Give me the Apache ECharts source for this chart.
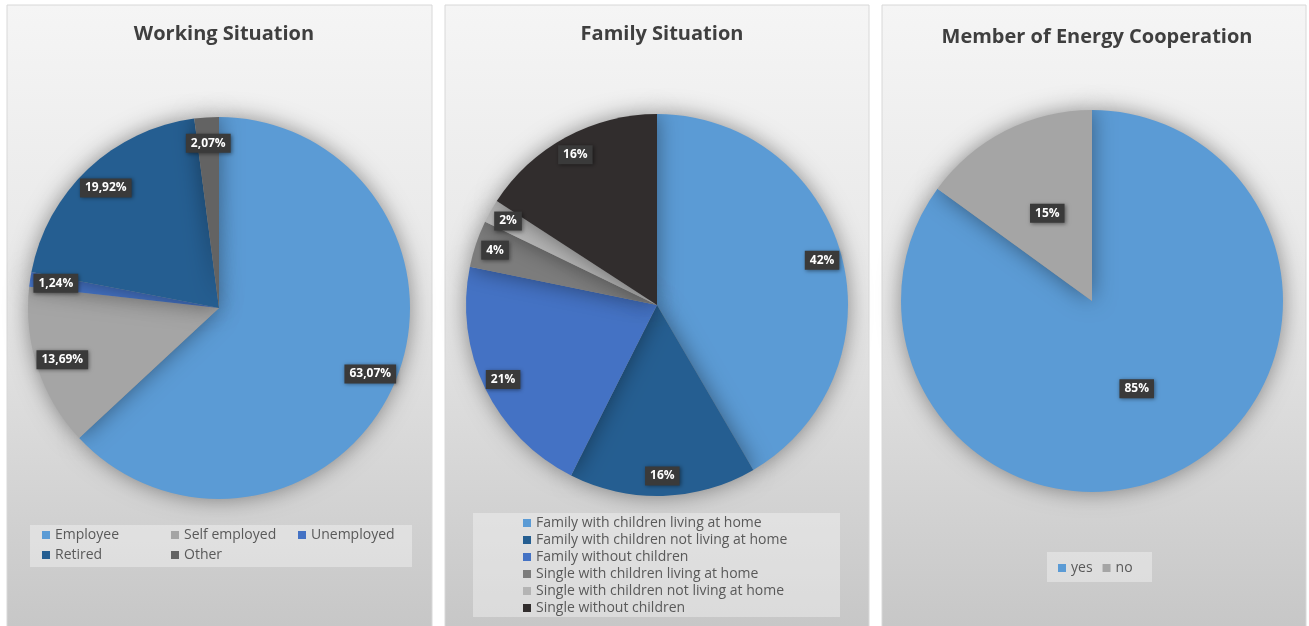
<!DOCTYPE html>
<html>
<head>
<meta charset="utf-8">
<script src="https://cdn.jsdelivr.net/npm/echarts@6/dist/echarts.min.js"></script>
<style>
  html, body { margin: 0; padding: 0; background: #ffffff; }
  #chart { width: 1309px; height: 626px; }
</style>
</head>
<body>
<div id="chart"></div>
<script>
// Working situation
const workCategories = ['Employee', 'Self employed', 'Unemployed', 'Retired', 'Other'];
const workValues = [63.07, 13.69, 1.24, 19.92, 2.07];
const workColors = ['#5b9bd5', '#a5a5a5', '#4472c4', '#255e91', '#636363'];

// Family situation
const familyCategories = [
  'Family with children living at home',
  'Family with children not living at home',
  'Family without children',
  'Single with children living at home',
  'Single with children not living at home',
  'Single without children'
];
const familyValues = [42, 16, 21, 4, 2, 16];
const familyColors = ['#5b9bd5', '#255e91', '#4472c4', '#7c7c7c', '#b4b4b4', '#312d2d'];

// Energy cooperation membership
const memberCategories = ['yes', 'no'];
const memberValues = [85, 15];
const memberColors = ['#5b9bd5', '#a5a5a5'];

const titles = ['Working Situation', 'Family Situation', 'Member of Energy Cooperation'];

const FONT = '"Open Sans", Lato, sans-serif';
const R = 191;

function items(names, values) {
  return names.map((n, i) => ({ name: n, value: values[i] }));
}

const valueLabel = {
  show: true,
  color: '#ffffff',
  fontFamily: FONT,
  fontWeight: 'bold',
  fontSize: 12,
  backgroundColor: '#3a3a3a',
  padding: [4, 5, 3, 5],
  shadowColor: 'rgba(0,0,0,0.45)',
  shadowBlur: 4,
  shadowOffsetX: 1,
  shadowOffsetY: 1
};

function basePie(center, names, values, colors, labelOn, fmt) {
  return {
    type: 'pie',
    center: center,
    radius: [0, R],
    startAngle: 90,
    clockwise: true,
    avoidLabelOverlap: false,
    silent: true,
    data: items(names, values),
    color: colors,
    itemStyle: {
      borderWidth: 0,
      shadowBlur: 22,
      shadowColor: 'rgba(0,0,0,0.42)'
    },
    label: labelOn ? Object.assign({ position: 'inside', formatter: fmt }, valueLabel) : { show: false },
    labelLine: { show: false },
    emphasis: { disabled: true }
  };
}

// transparent ring that only carries the value labels, placing them near the rim
function labelRing(center, inner, names, values, fmt) {
  return {
    type: 'pie',
    center: center,
    radius: [inner, R],
    startAngle: 90,
    clockwise: true,
    avoidLabelOverlap: false,
    silent: true,
    z: 5,
    data: items(names, values),
    itemStyle: { color: 'rgba(0,0,0,0)' },
    label: Object.assign({ position: 'inside', formatter: fmt }, valueLabel),
    labelLine: { show: false },
    emphasis: { disabled: true }
  };
}

const fmtDecimal = p => p.value.toFixed(2).replace('.', ',') + '%';
const fmtInt = p => p.value + '%';

const panelFill = {
  type: 'linear', x: 0, y: 0, x2: 0, y2: 1,
  colorStops: [
    { offset: 0, color: '#f5f5f5' },
    { offset: 0.45, color: '#e7e7e7' },
    { offset: 1, color: '#c6c6c6' }
  ]
};

function panel(x, w) {
  return {
    type: 'rect', z: -10,
    shape: { x: x, y: 5, width: w, height: 630 },
    style: { fill: panelFill, stroke: '#d8d8d8', lineWidth: 1 }
  };
}

function legendBox(x, y, w, h) {
  return {
    type: 'rect', z: -5,
    shape: { x: x, y: y, width: w, height: h },
    style: { fill: 'rgba(255,255,255,0.35)' }
  };
}

const legendText = { color: '#595959', fontFamily: FONT, fontSize: 14 };
function legend(data, left, top, orient, gap) {
  return {
    data: data, left: left, top: top, orient: orient,
    itemWidth: 8, itemHeight: 8, itemGap: gap, padding: 0,
    icon: 'rect', selectedMode: false,
    textStyle: legendText
  };
}

const chart = echarts.init(document.getElementById('chart'), null, { renderer: 'canvas' });
chart.setOption({
  animation: false,
  title: [
    { text: titles[0], left: 219, top: 19, textAlign: 'center' },
    { text: titles[1], left: 657, top: 19, textAlign: 'center' },
    { text: titles[2], left: 1092, top: 22, textAlign: 'center' }
  ].map(t => Object.assign(t, {
    textStyle: { color: '#3f3f3f', fontFamily: FONT, fontWeight: 'bold', fontSize: 20 }
  })),
  graphic: [
    panel(7, 425),
    panel(445, 424),
    panel(882, 424),
    legendBox(30, 525, 382, 42),
    legendBox(473, 513, 367, 104),
    legendBox(1047, 552, 105, 30)
  ],
  legend: [
    legend([workCategories[0], workCategories[3]], 42, 528, 'vertical', 6),
    legend([workCategories[1], workCategories[4]], 171, 528, 'vertical', 6),
    legend([workCategories[2]], 298, 528, 'vertical', 6),
    legend(familyCategories, 523, 516, 'vertical', 3),
    legend(memberCategories, 1058, 561, 'horizontal', 10)
  ],
  series: [
    basePie([219, 308], workCategories, workValues, workColors, false),
    labelRing([219, 308], 133, workCategories, workValues, fmtDecimal),
    basePie([657, 305], familyCategories, familyValues, familyColors, false),
    labelRing([657, 305], 145, familyCategories, familyValues, fmtInt),
    basePie([1092, 301], memberCategories, memberValues, memberColors, true, fmtInt)
  ]
});
</script>
</body>
</html>
